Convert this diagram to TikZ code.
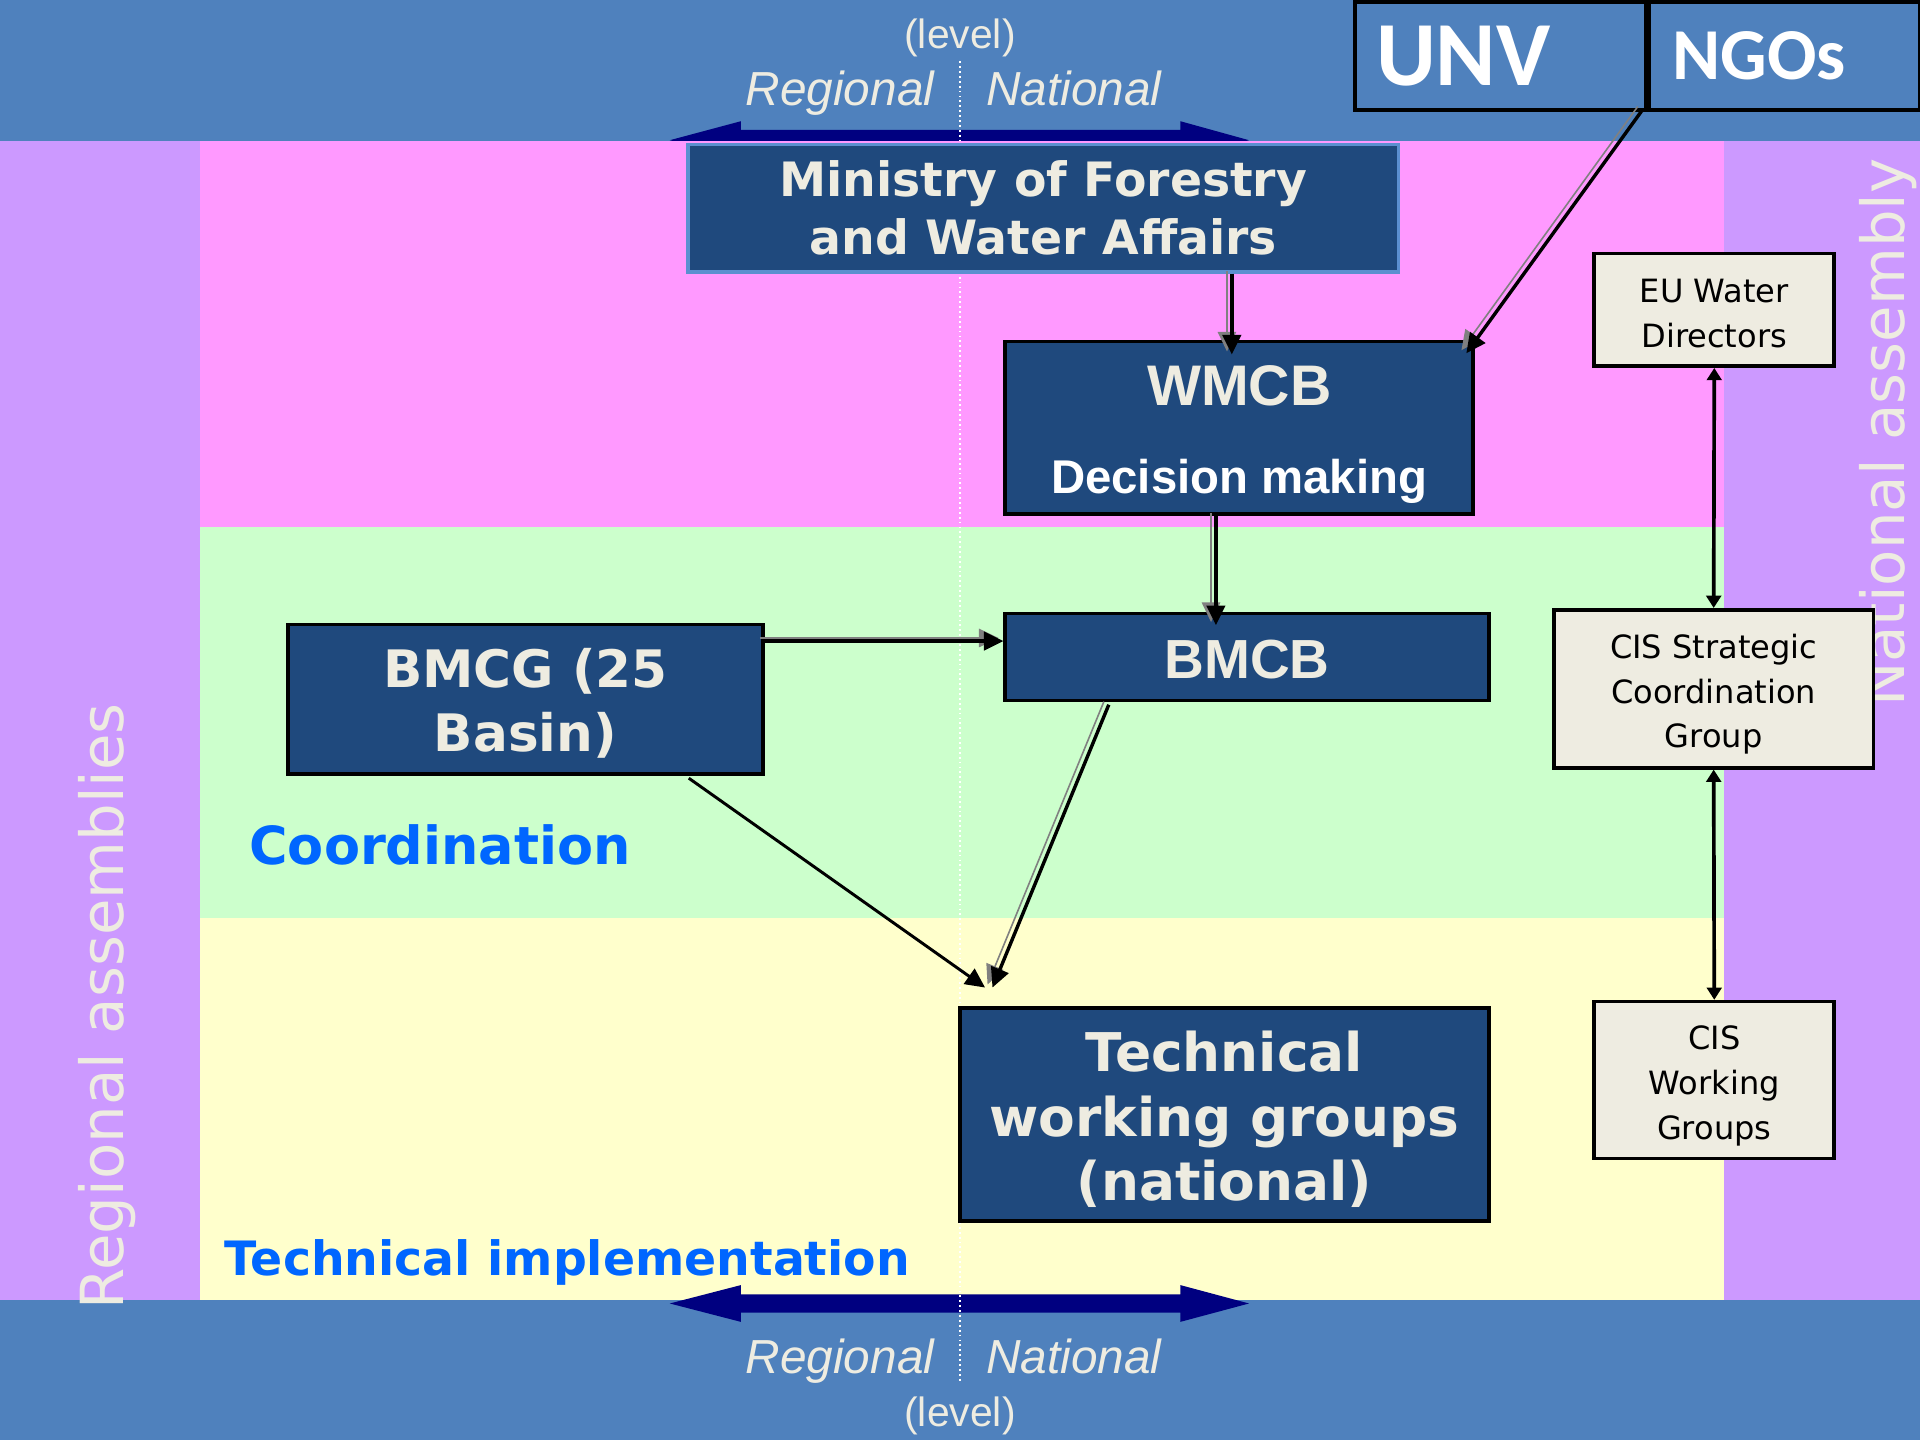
\documentclass[tikz,border=0pt]{standalone}
\usepackage{fontspec}
\usetikzlibrary{arrows.meta,calc}
\newfontfamily\dv{DejaVu Sans}
\newfontfamily\ls{Liberation Sans}
\newfontfamily\cb{Carlito}
\definecolor{bandblue}{HTML}{4F81BD}
\definecolor{pinkbg}{HTML}{FF99FF}
\definecolor{greenbg}{HTML}{CCFFCC}
\definecolor{yellowbg}{HTML}{FFFFCC}
\definecolor{purplebg}{HTML}{CC99FF}
\definecolor{boxblue}{HTML}{1F497D}
\definecolor{cream}{HTML}{EEECE1}
\definecolor{navyarrow}{HTML}{000080}
\definecolor{coordblue}{HTML}{0066FF}
\definecolor{minborder}{HTML}{5B8FD0}
% invisible strut that pushes a node's first line down
\newcommand\tp[1]{\rule{0pt}{\dimexpr0.76em+#1\relax}}
\tikzset{
  darkbox/.style={draw=black, line width=0.3mm, fill=boxblue, text=cream, align=center, inner sep=0pt},
  lightbox/.style={draw=black, line width=0.3mm, fill=cream, text=black, align=center, inner sep=0pt,
    font=\dv\fontsize{7.45}{10.4}\selectfont},
  conn/.style={draw=black, line width=0.28mm, -{Triangle[length=1.6mm,width=1.5mm]},
    preaction={draw=gray, line width=0.13mm, -{Triangle[length=1.6mm,width=1.5mm]},
      transform canvas={shift={(-4,-2.5)}}}},
  plainconn/.style={draw=black, line width=0.24mm, -{Triangle[length=1.6mm,width=1.5mm]}},
  biarrow/.style={draw=black, line width=0.3mm, {Triangle[length=1.0mm,width=1.2mm]}-{Triangle[length=1.0mm,width=1.2mm]}},
  levelarrow/.style={fill=navyarrow},
  leveltext/.style={text=cream, inner sep=0pt},
}
\begin{document}
\begin{tikzpicture}[x=0.1mm,y=-0.1mm]
\useasboundingbox (0,0) rectangle (1568,1176);
% top band and arrow
\fill[bandblue] (0,0) rectangle (1568,115);
\fill[levelarrow] (547,114.5) -- (605,99) -- (605,106) -- (964,106) -- (964,99) -- (1020,114.5)
  -- (964,130) -- (964,123) -- (605,123) -- (605,130) -- cycle;
% regions
\fill[pinkbg] (163,115) rectangle (1408,430);
\fill[greenbg] (163,430) rectangle (1408,750);
\fill[yellowbg] (163,750) rectangle (1408,1062);
\fill[purplebg] (0,115) rectangle (163,1062);
\fill[purplebg] (1408,115) rectangle (1568,1062);
\fill[bandblue] (0,1062) rectangle (1568,1176);
\fill[levelarrow] (547,1064.5) -- (605,1049.5) -- (605,1057) -- (964,1057) -- (964,1049.5) -- (1020,1064.5)
  -- (964,1079.5) -- (964,1072) -- (605,1072) -- (605,1079.5) -- cycle;
% dotted level divider
\draw[white, line width=0.15mm, dash pattern=on 0.15mm off 0.25mm] (784,50) -- (784,1128);

% level labels
\node[leveltext, font=\ls\fontsize{9.5}{11}\selectfont] (lvltop) at (784,31) {(level)};
\node[leveltext, anchor=base, font=\ls\itshape\fontsize{11.1}{13}\selectfont] (regtop) at (686,86) {Regional};
\node[leveltext, anchor=base, font=\ls\itshape\fontsize{11.1}{13}\selectfont] (nattop) at (877,86) {National};
\node[leveltext, anchor=base, font=\ls\itshape\fontsize{11.1}{13}\selectfont] (regbot) at (686,1122) {Regional};
\node[leveltext, anchor=base, font=\ls\itshape\fontsize{11.1}{13}\selectfont] (natbot) at (877,1122) {National};
\node[leveltext, font=\ls\fontsize{9.5}{11}\selectfont] (lvlbot) at (784,1156) {(level)};

% side labels
\node[leveltext, rotate=90, anchor=base west, font=\dv\fontsize{13.8}{16}\selectfont] (regasm) at (101,1070) {Regional assemblies};
\node[leveltext, rotate=90, anchor=base west, font=\dv\fontsize{13.8}{16}\selectfont] (natasm) at (1555,578) {National assembly};

% section labels
\node[anchor=base west, inner sep=0pt, text=coordblue, font=\dv\bfseries\fontsize{12.2}{14}\selectfont] (coordlbl) at (203,706) {Coordination};
\node[anchor=base west, inner sep=0pt, text=coordblue, font=\dv\bfseries\fontsize{11}{13}\selectfont] (techlbl) at (183,1042) {Technical implementation};

% UNV / NGOs
\node[draw=black, line width=0.35mm, fill=bandblue, anchor=north west, minimum width=23.8mm, minimum height=8.8mm,
  inner xsep=1.7mm, inner ysep=0pt, text width=20.4mm, align=left, text=white,
  font=\cb\bfseries\fontsize{21.3}{24}\selectfont] (unv) at (1105,0) {UNV};
\node[draw=black, line width=0.35mm, fill=bandblue, anchor=north west, minimum width=22.1mm, minimum height=8.8mm,
  inner xsep=1.9mm, inner ysep=0pt, text width=18.3mm, align=left, text=white,
  font=\cb\bfseries\fontsize{17}{20}\selectfont] (ngos) at (1345,0) {NGOs};

% main boxes
\node[darkbox, draw=minborder, minimum width=58mm, minimum height=10.4mm,
  font=\dv\bfseries\fontsize{11}{13.4}\selectfont] (ministry) at (852,170) {Ministry of Forestry\\and Water Affairs};
\node[darkbox, minimum width=38.2mm, minimum height=14.1mm,
  font=\ls\bfseries\fontsize{13.3}{15}\selectfont] (wmcb) at (1012,349.5)
  {\tp{2.2pt}WMCB\\[5.4pt]{\color{white}\fontsize{11}{13}\selectfont Decision making}};
\node[darkbox, minimum width=39.5mm, minimum height=7.1mm,
  font=\ls\bfseries\fontsize{12.8}{15}\selectfont] (bmcb) at (1018.5,536.5) {\tp{0.6pt}BMCB};
\node[darkbox, minimum width=38.8mm, minimum height=12.2mm,
  font=\dv\bfseries\fontsize{12}{14.8}\selectfont] (bmcg) at (429,571) {\tp{2pt}BMCG (25\\Basin)};
\node[darkbox, minimum width=43.2mm, minimum height=17.4mm,
  font=\dv\bfseries\fontsize{12.4}{14.9}\selectfont] (twg) at (1000,910) {\tp{2.3pt}Technical\\working groups\\(national)};

% right boxes
\node[lightbox, minimum width=19.6mm, minimum height=9.2mm] (eu) at (1400,253) {\tp{1.5pt}EU Water\\Directors};
\node[lightbox, minimum width=26.1mm, minimum height=12.9mm] (cisscg) at (1399.5,562.5) {\tp{2.6pt}CIS Strategic\\Coordination\\Group};
\node[lightbox, minimum width=19.6mm, minimum height=12.8mm] (ciswg) at (1400,882) {\tp{2.6pt}CIS\\Working\\Groups};

% connectors
\draw[conn] ($(ministry.south -| wmcb.north)+(-6,0)$) -- ($(wmcb.north)+(-6,12)$);
\draw[conn] ($(unv.south east)+(-5,-2)$) -- ($(wmcb.north east)+(-7,11)$);
\draw[conn] ($(wmcb.south)+(-19,0)$) -- ($(bmcb.north -| wmcb.south)+(-19,11)$);
\draw[conn] ($(bmcg.north east)+(0,15)$) -- ($(bmcb.west |- bmcg.north east)+(0,15)$);
\draw[conn] ($(bmcb.south west)+(86,2)$) -- ($(twg.north west)+(28,-15)$);
\draw[plainconn] ($(bmcg.south east)+(-62,2)$) -- ($(twg.north west)+(22,-15)$);
\draw[biarrow] (eu.south) -- (cisscg.north);
\draw[biarrow] (cisscg.south) -- (ciswg.north);
\end{tikzpicture}
\end{document}
